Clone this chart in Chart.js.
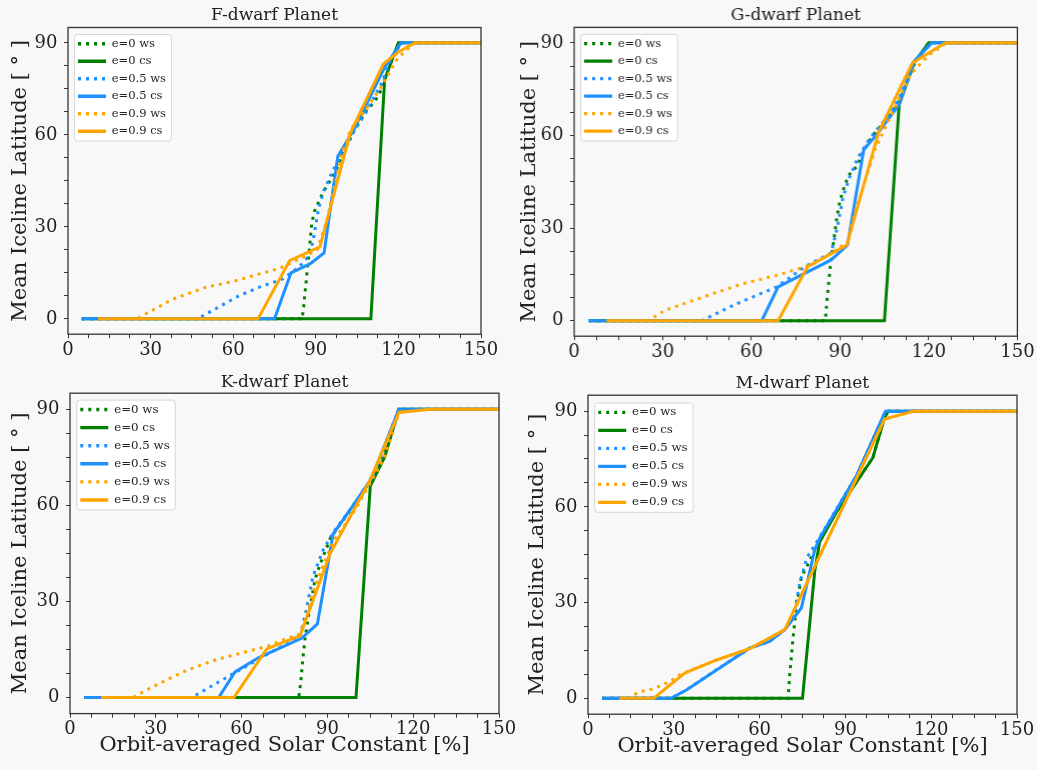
<!DOCTYPE html>
<html lang="en">
<head>
<meta charset="utf-8">
<title>Mean Iceline Latitude vs Orbit-averaged Solar Constant</title>
<script src="https://cdn.jsdelivr.net/npm/chart.js@4"></script>
<style>
    html, body { margin: 0; padding: 0; background: #f8f8f8; }
    body { width: 1037px; height: 770px; position: relative; overflow: hidden; }
    .panel { position: absolute; }
</style>
</head>
<body>
<div class="panel" id="pF"><canvas id="cF"></canvas></div>
<div class="panel" id="pG"><canvas id="cG"></canvas></div>
<div class="panel" id="pK"><canvas id="cK"></canvas></div>
<div class="panel" id="pM"><canvas id="cM"></canvas></div>
<script>
// [solar constant %, iceline latitude deg]
// F-dwarf
const fE0ws  = [[5,0],[85,0],[85.5,3],[86,8],[86.5,12],[87,17],[87.5,21],[88,26],[88.5,31],[89.5,35],[91,38],[92.5,41],[94.5,44],[96.5,47],[98.5,50.5],[100,54],[104,61.5],[108.5,68],[111.5,71],[114,75],[116.5,82],[120.5,90],[150,90]];
const fE0cs  = [[5,0],[110,0],[115,78],[120,90],[150,90]];
const fE05ws = [[5,0],[47,0],[55,4],[62,7.5],[70,10.5],[78,13],[84,17],[88,21],[89.5,28],[91,36],[93,42],[96,48],[98.5,52],[103,60],[108,67],[114,77],[117,84],[121,90],[150,90]];
const fE05cs = [[5,0],[75,0],[81,15],[88,18],[93,21.5],[98,53],[104,62],[115,82],[121,90],[150,90]];
const fE09ws = [[11,0],[25,0],[30,2.5],[38,6.4],[50,10.3],[60,12.2],[68,14.3],[77,16.5],[82,18.7],[87,20.8],[90.5,22.5],[94,32],[96.5,42],[99.5,54],[102.5,61.5],[108,68],[114,76],[119,84],[122,87],[126,90],[150,90]];
const fE09cs = [[11,0],[69,0],[80.5,19],[91.5,23.5],[102.5,60.5],[114.5,83],[120,87],[126,90],[150,90]];
// G-dwarf
const gE0ws  = [[5,0],[85,0],[85.6,7],[86.7,17.5],[88,27],[89,34],[90,39],[91.8,44.5],[93.5,48],[95.7,50],[98,55],[101,60],[106.5,66],[110,71],[115,83],[120,90],[150,90]];
const gE0cs  = [[5,0],[105,0],[110,70],[115,83.5],[120,90],[150,90]];
const gE05ws = [[5,0],[43,0],[55,5.5],[68.6,11],[78,17.5],[87,22],[89,30],[91,40],[93,46],[96,52.7],[100,59],[106,66],[110,72],[115,84],[121,90],[150,90]];
const gE05cs = [[5,0],[63.5,0],[69,11],[87,19.7],[92.5,24.5],[98,55.4],[103,61],[110,70],[115,84],[121,90],[150,90]];
const gE09ws = [[11,0],[25,0],[31,3.5],[44,7.8],[57,12],[69,14.8],[80,18],[87,21.8],[92.5,25.6],[95,35],[98,44],[102,56],[107,66],[114,80],[120,86],[126,90],[150,90]];
const gE09cs = [[11,0],[69,0],[79,17.5],[92.3,24.5],[103,61],[114.5,83.5],[125.7,90],[150,90]];
// K-dwarf
const kE0ws  = [[5,0],[80,0],[80.7,5],[81.4,12],[82.2,18.5],[83.3,25],[84.7,32],[85.7,37],[87.4,41.5],[89.2,45.6],[91,49.7],[94.4,54],[98.5,59],[102.6,64],[108,73],[115,90],[150,90]];
const kE0cs  = [[5,0],[100,0],[105,66],[110,75],[115,90],[150,90]];
const kE05ws = [[5,0],[42.5,0],[55.4,6.6],[65,11.5],[73,15.5],[80.4,19],[82.5,27],[85,38],[88.5,46],[92,51.5],[99,60],[105.5,68.5],[115,90],[150,90]];
const kE05cs = [[5,0],[52,0],[57.7,8],[66,12.5],[81,18.5],[86.5,23],[92,51],[99,60],[105.5,68.5],[115,90],[150,90]];
const kE09ws = [[11,0],[22,0],[28,3],[41,8.6],[51,11.8],[62,14.4],[69,16],[76,18.5],[80.4,19.8],[83,26],[85,33],[88.6,41.4],[92,48.7],[100,59],[110,75],[115,89],[125,90],[150,90]];
const kE09cs = [[11,0],[57.3,0],[68.8,15.2],[80.4,19.3],[91,45],[105,68],[115,89],[126,90],[150,90]];
// M-dwarf
const mE0ws  = [[5,0],[70,0],[70.5,7],[71.7,19],[72.8,28],[74.6,38],[77.5,43],[81,50],[87,58.6],[99.6,75.4],[104,89],[105,90],[150,90]];
const mE0cs  = [[5,0],[75,0],[79.3,40],[81,49],[87,58.6],[99.6,75.4],[103.7,88],[105,90],[150,90]];
const mE05ws = [[5,0],[29,0],[34.4,2.6],[45,9],[56.5,15.7],[63.5,17.8],[68.8,21.5],[72,26],[74,36],[76.5,44],[81,50.5],[94,70],[104,90],[150,90]];
const mE05cs = [[5,0],[29,0],[34.4,2.6],[56.5,15.7],[63.5,17.8],[68.8,21.5],[74.6,28.3],[79.3,46.6],[81,50.2],[94,70],[104,90],[150,90]];
const mE09ws = [[11,0],[14,0],[18,2],[23,3],[28.6,5.2],[32,7.3],[35,8.5],[45,12],[57,15.7],[68.8,21.5],[103.7,87.5],[114,90],[150,90]];
const mE09cs = [[11,0],[23,0],[33.8,7.9],[45,12],[57,15.7],[68.8,21.5],[103.7,87.5],[114,90],[150,90]];

const seriesLabels = ['e=0 ws', 'e=0 cs', 'e=0.5 ws', 'e=0.5 cs', 'e=0.9 ws', 'e=0.9 cs'];
const seriesColors = ['#008000', '#008000', '#1e90ff', '#1e90ff', '#ffa500', '#ffa500'];
const xTickLabels = [0, 30, 60, 90, 120, 150];
const yTickLabels = [0, 30, 60, 90];

const serif = "'DejaVu Serif', 'Liberation Serif', serif";
const YAXIS_W = 68, PAD_R = 20;
const TITLE_SIZE = 17, AXIS_TITLE_SIZE = 21;

// plot boxes (px) measured on the figure
const panels = [
    { canvas: 'cF', holder: 'pF', title: 'F-dwarf Planet', series: [fE0ws, fE0cs, fE05ws, fE05cs, fE09ws, fE09cs],
      box: { l: 67.7, t: 27.3, r: 480.7, b: 334 }, titleY: 15, yTitleX: 20, xTitle: false, lgFont: 11.5, lgPad: 6, lgDy: 4.5 },
    { canvas: 'cG', holder: 'pG', title: 'G-dwarf Planet', series: [gE0ws, gE0cs, gE05ws, gE05cs, gE09ws, gE09cs],
      box: { l: 574.3, t: 27.2, r: 1016.7, b: 336 }, titleY: 15, yTitleX: 530, xTitle: false, lgFont: 11.5, lgPad: 6, lgDy: 4.5 },
    { canvas: 'cK', holder: 'pK', title: 'K-dwarf Planet', series: [kE0ws, kE0cs, kE05ws, kE05cs, kE09ws, kE09cs],
      box: { l: 70, t: 393, r: 499, b: 713.4 }, titleY: 382, yTitleX: 21, xTitle: true, lgFont: 11.8, lgPad: 6.3, lgDy: 4.1 },
    { canvas: 'cM', holder: 'pM', title: 'M-dwarf Planet', series: [mE0ws, mE0cs, mE05ws, mE05cs, mE09ws, mE09cs],
      box: { l: 588.3, t: 395, r: 1017.3, b: 714 }, titleY: 383, yTitleX: 538, xTitle: true, lgFont: 11.8, lgPad: 6.2, lgDy: 5.1 }
];

// legend placement, legend frame and the box round the plot
const panelFrame = {
    id: 'panelFrame',
    afterLayout(chart, args, o) {
        const lg = chart.legend, a = chart.chartArea;
        if (lg) {
            lg.left = a.left + o.dx;
            lg.top = a.top + o.dy;
        }
    },
    beforeDraw(chart) {
        const hb = chart.legend && chart.legend.legendHitBoxes;
        if (!hb || !hb.length) return;
        let l = Infinity, t = Infinity, r = -Infinity, b = -Infinity;
        hb.forEach(h => {
            l = Math.min(l, h.left); t = Math.min(t, h.top);
            r = Math.max(r, h.left + h.width); b = Math.max(b, h.top + h.height);
        });
        const ctx = chart.ctx;
        ctx.save();
        ctx.beginPath();
        ctx.roundRect(l - 3.5, t - 3.5, r - l + 9, b - t + 7.5, 3);
        ctx.fillStyle = '#ffffff';
        ctx.fill();
        ctx.strokeStyle = '#d6d6d6';
        ctx.lineWidth = 1;
        ctx.stroke();
        ctx.restore();
    },
    afterDatasetsDraw(chart) {
        const a = chart.chartArea, ctx = chart.ctx;
        ctx.save();
        ctx.strokeStyle = '#333';
        ctx.lineWidth = 1.3;
        ctx.strokeRect(a.left, a.top, a.right - a.left, a.bottom - a.top);
        ctx.restore();
    }
};

function makeSets(series) {
    return series.map((pts, i) => ({
        label: seriesLabels[i],
        data: pts.map(p => ({ x: p[0], y: p[1] })),
        borderColor: seriesColors[i],
        backgroundColor: seriesColors[i],
        borderWidth: 3,
        borderDash: i % 2 === 0 ? [3, 5] : [],
        borderCapStyle: 'butt',
        pointRadius: 0,
        tension: 0,
        fill: false
    })).reverse(); // last series drawn on top, like the original
}

// legend samples take the dash and width of the line itself
function legendLabels(chart) {
    const items = Chart.defaults.plugins.legend.labels.generateLabels(chart);
    items.forEach(it => {
        const ds = chart.data.datasets[it.datasetIndex];
        it.lineDash = ds.borderDash;
        it.lineWidth = 3.4;
        it.lineCap = 'butt';
        it.strokeStyle = ds.borderColor;
    });
    return items;
}

panels.forEach(p => {
    const w = p.box.r - p.box.l, h = p.box.b - p.box.t;
    const titleLH = TITLE_SIZE * 1.2;
    const titlePb = Math.max(0, p.box.t - p.titleY - titleLH / 2);
    const titlePt = 4;
    const topH = titlePt + titleLH + titlePb;
    const xAxisH = p.xTitle ? 52 : 30;
    const axisHalfLH = AXIS_TITLE_SIZE * 1.2 / 2;
    const holder = document.getElementById(p.holder);
    holder.style.left = (p.box.l - YAXIS_W) + 'px';
    holder.style.top = (p.box.t - topH) + 'px';
    holder.style.width = (YAXIS_W + w + PAD_R) + 'px';
    holder.style.height = (topH + h + xAxisH) + 'px';

    new Chart(document.getElementById(p.canvas), {
        type: 'line',
        data: { datasets: makeSets(p.series) },
        plugins: [panelFrame],
        options: {
            responsive: true,
            maintainAspectRatio: false,
            animation: false,
            layout: { padding: { top: 0, left: 0, right: PAD_R, bottom: 0 } },
            plugins: {
                panelFrame: { dx: 4, dy: p.lgDy },
                tooltip: { enabled: false },
                title: {
                    display: true,
                    text: p.title,
                    fullSize: false,
                    color: '#222',
                    font: { family: serif, size: TITLE_SIZE, weight: 'normal', lineHeight: 1.2 },
                    padding: { top: titlePt, bottom: titlePb }
                },
                legend: {
                    position: 'chartArea',
                    align: 'start',
                    reverse: true,
                    labels: {
                        usePointStyle: true,
                        pointStyle: 'line',
                        pointStyleWidth: 28,
                        padding: p.lgPad,
                        color: '#222',
                        font: { family: serif, size: p.lgFont },
                        generateLabels: legendLabels
                    }
                }
            },
            scales: {
                x: {
                    type: 'linear',
                    min: 0, max: 150,
                    afterFit: s => { s.height = xAxisH; },
                    border: { display: false },
                    grid: { drawOnChartArea: false, drawTicks: true, tickLength: 4, color: '#333', tickWidth: 1 },
                    ticks: {
                        stepSize: 7.5, includeBounds: false, autoSkip: false, maxRotation: 0, padding: 1.2,
                        color: '#222', font: { family: serif, size: 18 },
                        callback: v => xTickLabels.includes(v) ? String(v) : ''
                    },
                    title: {
                        display: p.xTitle,
                        text: 'Orbit-averaged Solar Constant [%]',
                        color: '#222',
                        font: { family: serif, size: AXIS_TITLE_SIZE, lineHeight: 1.2 },
                        padding: { top: 0, bottom: xAxisH - 32 - axisHalfLH }
                    }
                },
                y: {
                    min: -5, max: 95,
                    afterFit: s => { s.width = YAXIS_W; },
                    border: { display: false },
                    grid: { drawOnChartArea: false, drawTicks: true, tickLength: 4, color: '#333', tickWidth: 1 },
                    ticks: {
                        stepSize: 7.5, includeBounds: false, autoSkip: false, padding: 6.5,
                        color: '#222', font: { family: serif, size: 18 },
                        callback: v => yTickLabels.includes(v) ? String(v) : ''
                    },
                    title: {
                        display: true,
                        text: 'Mean Iceline Latitude [ ° ]',
                        color: '#222',
                        font: { family: serif, size: AXIS_TITLE_SIZE, lineHeight: 1.2 },
                        padding: { top: p.yTitleX - (p.box.l - YAXIS_W) - axisHalfLH, bottom: 0 }
                    }
                }
            }
        }
    });
});
</script>
</body>
</html>
